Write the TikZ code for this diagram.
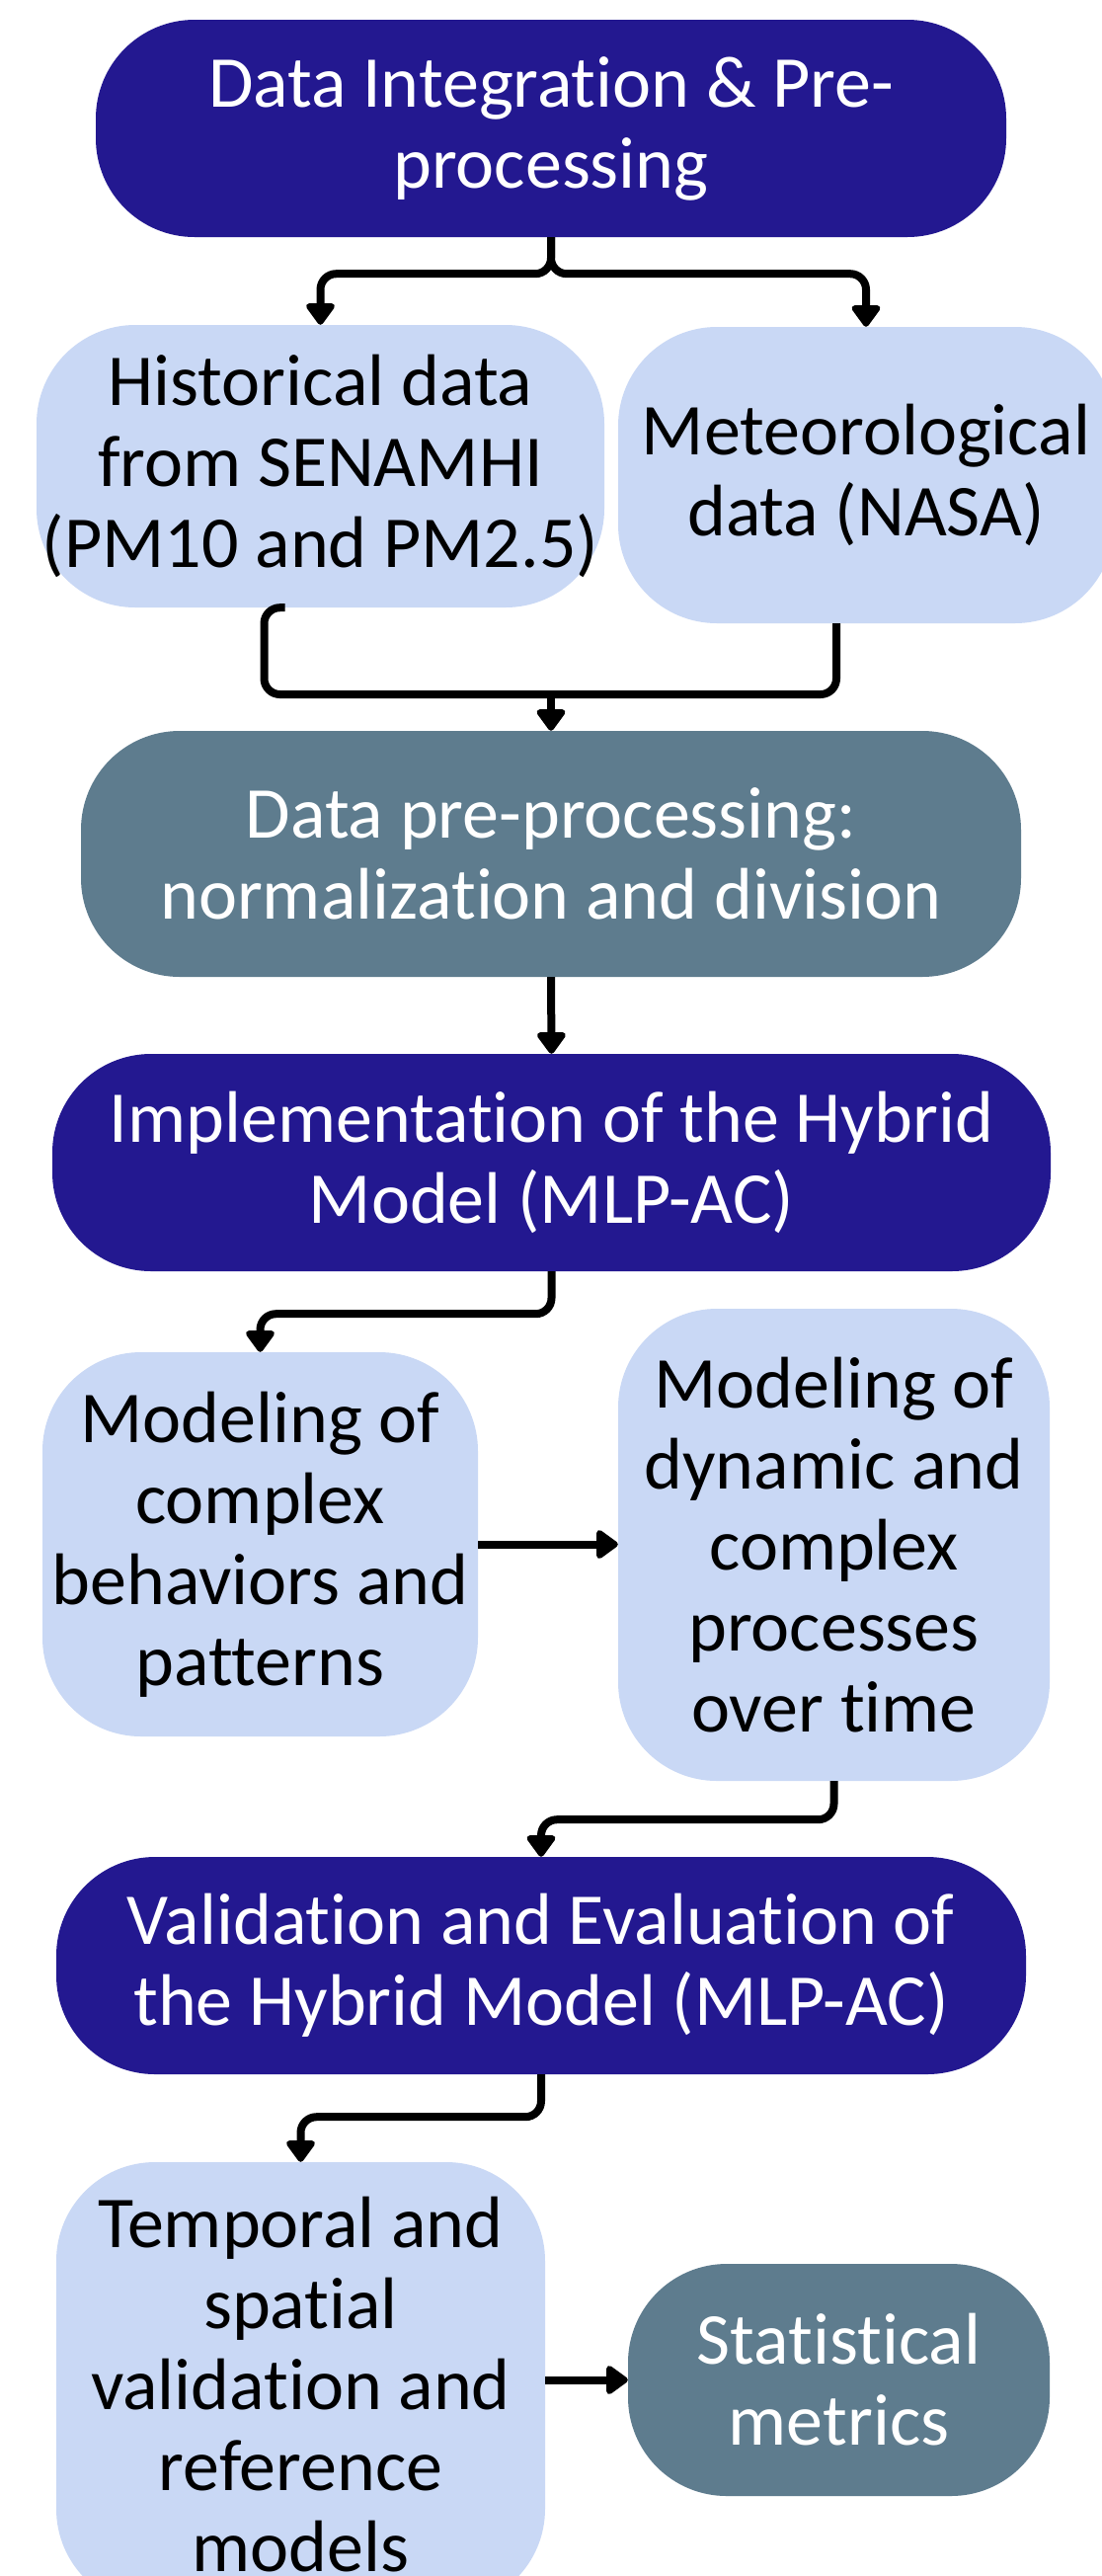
\documentclass[tikz,border=0pt]{standalone}
\usepackage{fontspec}
\setmainfont{Carlito}[Ligatures=NoCommon]
\usetikzlibrary{arrows.meta,calc}
\definecolor{navy}{HTML}{231890}
\definecolor{lightb}{HTML}{C9D8F5}
\definecolor{slate}{HTML}{5E7C8E}
\begin{document}
\begin{tikzpicture}[x=1pt,y=-1pt,
  box/.style={rectangle, rounded corners=100pt, inner sep=0pt, align=center,
    font=\fontsize{74}{82}\selectfont},
  navybox/.style={box, fill=navy, text=white},
  lightbox/.style={box, fill=lightb, text=black},
  slatebox/.style={box, fill=slate, text=white},
  link/.style={line width=8pt, rounded corners=16pt},
  conn/.style={link, -{Triangle[width=33pt,length=24pt,round]}},
]
\useasboundingbox (0,0) rectangle (1116,2608);
\clip (0,0) rectangle (1116,2608);
\fill[white] (0,0) rectangle (1116,2608);

\node[navybox, minimum width=922pt, minimum height=220pt] (n1) at (558,130)
  {Data Integration \& Pre-\\processing};
\node[lightbox, minimum width=575pt, minimum height=286pt] (n2) at (324.5,472)
  {Historical data\\from SENAMHI\\(PM10 and PM2.5)};
\node[lightbox, minimum width=502pt, minimum height=300pt] (n3) at (877,481)
  {Meteorological\\data (NASA)};
\node[slatebox, minimum width=952pt, minimum height=249pt] (n4) at (558,864.5)
  {Data pre-processing:\\normalization and division};
\node[navybox, minimum width=1011pt, minimum height=220pt] (n5) at (558.5,1177)
  {Implementation of the Hybrid\\Model (MLP-AC)};
\node[lightbox, minimum width=441pt, minimum height=389pt] (n6) at (263.5,1563.5)
  {Modeling of\\complex\\behaviors and\\patterns};
\node[lightbox, minimum width=437pt, minimum height=478pt] (n7) at (844.5,1564)
  {Modeling of\\dynamic and\\complex\\processes\\over time};
\node[navybox, minimum width=982pt, minimum height=220pt] (n8) at (548,1990)
  {Validation and Evaluation of\\the Hybrid Model (MLP-AC)};
\node[lightbox, minimum width=495pt, minimum height=451pt] (n9) at (304.5,2414.5)
  {Temporal and\\spatial\\validation and\\reference\\models};
\node[slatebox, minimum width=427pt, minimum height=235pt] (n10) at (849.5,2409.5)
  {Statistical\\metrics};

% split from n1
\draw[conn] (n1.south) -- ++(0,37) -| (n2.north);
\draw[conn] (n1.south) -- ++(0,37) -| (n3.north);

% merge into n4
\coordinate (ym) at (0,703);
\coordinate (s2) at ($(n2.south)+(-36,0)$);
\coordinate (s3) at ($(n3.south)+(-30,0)$);
\draw[link] (s2) -- ++(-21,0) |- (s3 |- ym) -- (s3);
\draw[conn] (n4.north |- ym) -- (n4.north);

\draw[conn] (n4.south) -- (n5.north);
\draw[conn] (n5.south) -- ++(0,43) -| (n6.north);
\draw[conn] (n6.east) -- (n7.west |- n6.east);
\draw[conn] (n7.south) -- ++(0,39) -| (n8.north);
\draw[conn] (n8.south) -- ++(0,43) -| (n9.north);
\draw[conn] (n9.east |- n10.west) -- (n10.west);
\end{tikzpicture}
\end{document}
